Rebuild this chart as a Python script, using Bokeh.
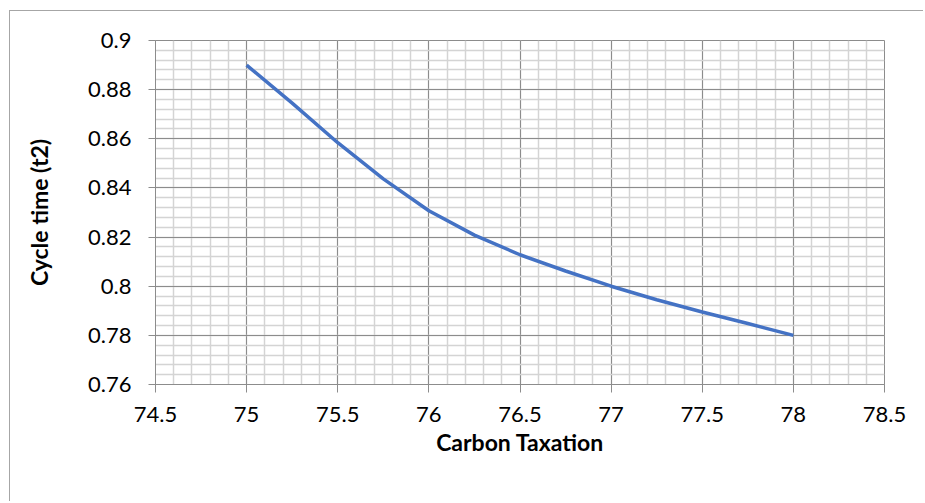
from bokeh.plotting import figure
from bokeh.models import FixedTicker, CustomJSTickFormatter, Range1d
from bokeh.embed import file_html
from bokeh.resources import INLINE

# data
carbon_tax = [75.0, 75.25, 75.5, 75.75, 76.0, 76.25, 76.5, 76.75, 77.0, 77.25, 77.5, 77.75, 78.0]
cycle_time = [0.890, 0.8745, 0.8584, 0.8437, 0.8307, 0.8208, 0.8128, 0.8062, 0.800, 0.7945, 0.7895, 0.7848, 0.780]

x_ticks = [74.5, 75, 75.5, 76, 76.5, 77, 77.5, 78, 78.5]
y_ticks = [0.76, 0.78, 0.80, 0.82, 0.84, 0.86, 0.88, 0.90]
x_minor = [round(74.5 + 0.1 * i, 2) for i in range(41)]
y_minor = [round(0.76 + 0.004 * i, 4) for i in range(36)]

FONT = "Lato"
GRID_MAJOR = "#8c8c8c"
GRID_MINOR = "#d4d4d4"

p = figure(width=914, height=491, output_backend="svg", toolbar_location=None,
           x_range=Range1d(74.5, 78.5), y_range=Range1d(0.76, 0.9),
           min_border_left=145, min_border_right=40, min_border_top=29, min_border_bottom=118,
           styles={"margin-left": "9px", "margin-top": "10px",
                   "border-left": "1.5px solid #a6a6a6",
                   "border-top": "1.5px solid #a6a6a6"})

p.background_fill_color = "white"
p.border_fill_color = "white"
p.outline_line_color = GRID_MAJOR
p.outline_line_width = 1

fmt = CustomJSTickFormatter(code="return String(parseFloat(tick.toFixed(4)));")

p.xaxis.ticker = FixedTicker(ticks=x_ticks, minor_ticks=x_minor)
p.yaxis.ticker = FixedTicker(ticks=y_ticks, minor_ticks=y_minor)
p.xaxis.formatter = fmt
p.yaxis.formatter = fmt

for ax in (p.xaxis[0], p.yaxis[0]):
    ax.axis_line_color = GRID_MAJOR
    ax.major_tick_line_color = GRID_MAJOR
    ax.major_tick_in = 0
    ax.minor_tick_line_color = None
    ax.major_label_text_font = FONT
    ax.major_label_text_font_size = "22px"
    ax.major_label_text_color = "#000000"
    ax.axis_label_text_font = FONT
    ax.axis_label_text_font_size = "23px"
    ax.axis_label_text_font_style = "bold"
    ax.axis_label_text_color = "#000000"

p.xaxis.major_tick_out = 8
p.yaxis.major_tick_out = 7
p.xaxis.major_label_standoff = 14
p.yaxis.major_label_standoff = 17
p.xaxis.axis_label = "Carbon Taxation"
p.yaxis.axis_label = "Cycle time (t2)"
p.xaxis.axis_label_standoff = 3
p.yaxis.axis_label_standoff = 32

for g in (p.xgrid[0], p.ygrid[0]):
    g.grid_line_color = GRID_MAJOR
    g.grid_line_width = 1
    g.minor_grid_line_color = GRID_MINOR
    g.minor_grid_line_width = 1.5

p.line(carbon_tax, cycle_time, line_color="#4472C4", line_width=3.5)

open("out.html", "w").write(file_html(p, INLINE))
